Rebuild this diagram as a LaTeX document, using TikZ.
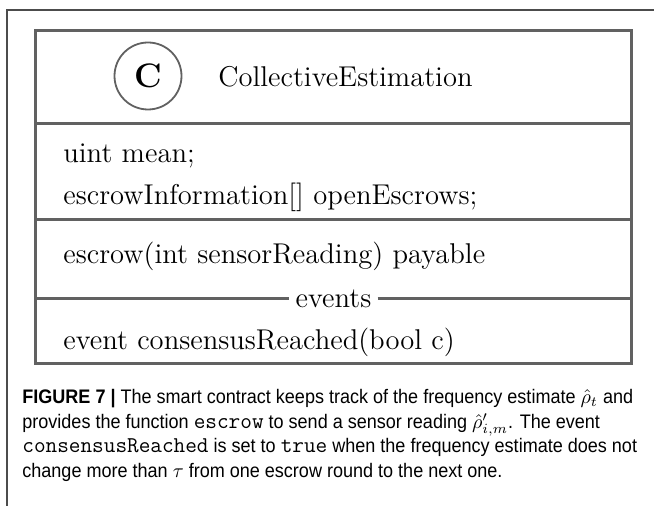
\documentclass[tikz,border=0pt]{standalone}
\usepackage{amsmath,amssymb}
\usepackage{fontspec}
\newfontfamily\capfont[FakeStretch=0.92]{Liberation Sans}
\newcommand{\capcode}[1]{{\ttfamily\fontsize{11.3}{12.35}\selectfont #1}}
\usetikzlibrary{positioning,calc}

\begin{document}
\begin{tikzpicture}[
  x=0.5pt, y=-0.5pt,
  frameline/.style={draw=black!70, line width=0.6pt},
  classbox/.style={draw=black!62, line width=1.5pt},
  umltext/.style={anchor=base west, inner sep=0pt, font=\fontsize{14.3}{17}\selectfont},
  captext/.style={anchor=north west, align=left, inner sep=0pt, font=\capfont\fontsize{9.8}{12.35}\selectfont}
]
\useasboundingbox (0,0) rectangle (654,506);
\draw[frameline] (7,506) -- (7,10) -- (654,10);
% class box and compartments
\coordinate (boxnw) at (35,30.5);
\coordinate (boxse) at (631.5,364);
\draw[classbox] (boxnw) rectangle (boxse);
\draw[classbox] (boxnw |- 0,124) -- (boxse |- 0,124);
\draw[classbox] (boxnw |- 0,220) -- (boxse |- 0,220);
\node[circle, draw=black!62, line width=0.9pt, minimum size=33.5pt, inner sep=0pt,
  font=\fontsize{17}{20}\selectfont\bfseries] (classicon) at (148,76) {C};
\node[umltext] (classname) at (218,87) {CollectiveEstimation};
\node[umltext] (attrmean) at (63,163) {uint mean;};
\node[umltext] (attrescrows) at (63,205) {escrowInformation[] openEscrows;};
\node[umltext] (opescrow) at (63,264) {escrow(int sensorReading) payable};
\node[umltext, anchor=center, inner xsep=3pt] (evlabel) at (333.5,299) {events};
\node[umltext] (evconsensus) at (63,350) {event consensusReached(bool c)};
\draw[classbox] (boxnw |- evlabel) -- (evlabel.west);
\draw[classbox] (evlabel.east) -- (boxse |- evlabel);
% caption
\node[captext] (caption) at (22,389) {%
  \textbf{FIGURE 7 |} The smart contract keeps track of the frequency estimate $\hat{\rho}_t$ and\\
  provides the function \capcode{escrow} to send a sensor reading $\hat{\rho}'_{i,m}$. The event\\
  \capcode{consensusReached} is set to \capcode{true} when the frequency estimate does not\\
  change more than $\tau$ from one escrow round to the next one.};
\end{tikzpicture}
\end{document}
